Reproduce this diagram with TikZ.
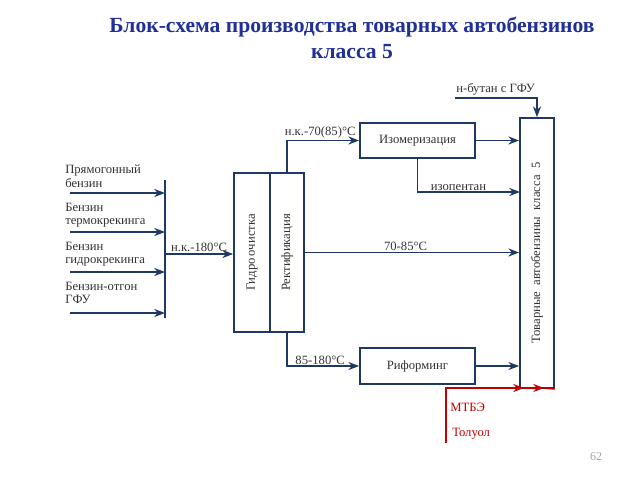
\documentclass[tikz,border=0pt]{standalone}
\usepackage{fontspec}
\setmainfont{Liberation Serif}
\usetikzlibrary{arrows.meta,positioning}
\definecolor{navy}{RGB}{31,56,100}
\definecolor{ttlblue}{RGB}{32,48,150}
\definecolor{darkred}{RGB}{192,0,0}
\definecolor{txtgray}{RGB}{50,50,50}

\begin{document}
\begin{tikzpicture}[x=0.75pt,y=0.75pt,yscale=-1,xscale=1,
  blk/.style={draw=navy, line width=1.3pt, inner sep=0pt, font=\fontsize{9.5}{11}\selectfont, text=txtgray},
  flow/.style={draw=navy, line width=1.3pt},
  arr/.style={flow, -{Stealth[length=8pt,width=6pt,inset=2.5pt]}},
  redl/.style={draw=darkred, line width=1.3pt},
  redarr/.style={redl, -{Stealth[length=8pt,width=6pt,inset=2.5pt]}},
  lbl/.style={inner sep=0.75pt, font=\fontsize{9.5}{10}\selectfont, text=txtgray}]
\useasboundingbox (0,0) rectangle (640,480);

% Title
\draw (352,38) node [inner sep=0pt][align=center][font=\fontsize{16.2}{19.5}\selectfont\bfseries, text=ttlblue] (title) {Блок-схема производства товарных автобензинов\\класса 5};

% Blocks
\node[blk, minimum width=27pt, minimum height=119.25pt] (hydro) at (252,252.5) {};
\node[blk, minimum width=25.5pt, minimum height=119.25pt] (rect) at (287,252.5) {};
\node[blk, minimum width=86.25pt, minimum height=26.25pt] (izo) at (417.5,140.5) {Изомеризация};
\node[blk, minimum width=86.25pt, minimum height=27pt] (rif) at (417.5,366) {Риформинг};
\node[blk, minimum width=25.5pt, minimum height=202.5pt] (prod) at (537,253) {};
\node[lbl, rotate=90] (hydrotxt) at (hydro.center) {Гидро\,очистка};
\node[lbl, rotate=90] (recttxt) at (rect.center) {Ректификация};
\node[lbl, rotate=90] (prodtxt) at (prod.center) {Товарные\ \ автобензины\ \ класса\ \ 5};

% Collector line
\coordinate (busT) at (165,180);
\coordinate (busB) at (165,318);
\coordinate (busM) at (165,254);
\draw[flow] (busT) -- (busB);

% Inputs
\coordinate (in1) at (70,193);
\coordinate (in2) at (70,232);
\coordinate (in3) at (70,272);
\coordinate (in4) at (70,313);
\foreach \i in {1,...,4}
  \draw[arr] (in\i) -- (in\i -| busT);

% Text Node
\draw (64,164) node [anchor=north west][lbl][align=left] (t1) {Прямогонный\\бензин};
% Text Node
\draw (64,202) node [anchor=north west][lbl][align=left] (t2) {Бензин\\термокрекинга};
% Text Node
\draw (64,241) node [anchor=north west][lbl][align=left] (t3) {Бензин\\гидрокрекинга};
% Text Node
\draw (64,281) node [anchor=north west][lbl][align=left] (t4) {Бензин-отгон\\ГФУ};

% Streams
\draw[arr] (busM) -- (busM -| hydro.west) node[midway, above, lbl] (l180) {н.к.-180°С};
\draw[arr] (rect.north) |- (izo.west) node[pos=0.73, above, lbl] (l70) {н.к.-70(85)°С};
\draw[arr] (izo.east) -- (izo.east -| prod.west);
\coordinate (ipent) at (520,192);
\draw[arr] (izo.south) |- (ipent) node[pos=0.7, above, lbl] (lipent) {изопентан};
\draw[arr] (rect.east) -- (rect.east -| prod.west) node[pos=0.47, above, lbl] (l7085) {70-85°С};
\draw[arr] (rect.south) |- (rif.west) node[pos=0.73, above, lbl] (l85) {85-180°С};
\draw[arr] (rif.east) -- (rif.east -| prod.west);

% Butane
\coordinate (but) at (455,98);
\draw[arr] (but) -| (prod.north);
\draw (but) node [anchor=south west][lbl][yshift=1pt] (lbut) {н-бутан с ГФУ};

% Additives
\coordinate (mtbe) at (446,443);
\coordinate (rtip1) at (524,388);
\coordinate (rtip2) at (544,388);
\draw[redarr] (mtbe) |- (rtip1);
\draw[redarr] (rtip1) -- (rtip2);
\draw[redl] (rtip2) -- (prod.south east);
\draw (449,407) node [anchor=west][lbl][text=darkred] (lmtbe) {МТБЭ};
\draw (451,434) node [anchor=west][lbl][text=darkred] (ltol) {Толуол};

% Page number
\draw (596,457) node [inner sep=0pt][font=\fontsize{9}{10}\selectfont, text=gray!70] (pg) {62};
\end{tikzpicture}
\end{document}
